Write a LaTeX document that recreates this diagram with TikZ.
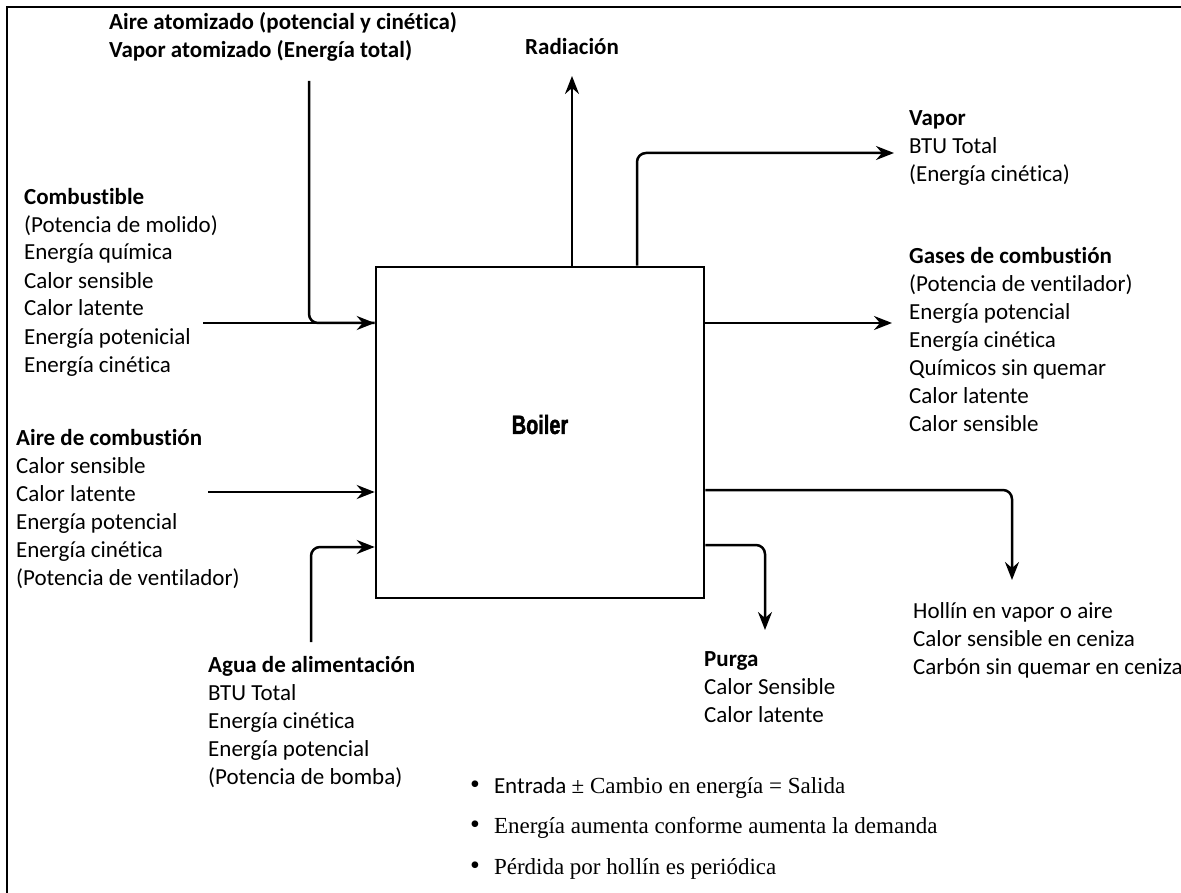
\documentclass[tikz,border=0pt]{standalone}
\usepackage{fontspec}
\setmainfont{Carlito}[Ligatures=NoCommon]
\newfontfamily\timesfont{Liberation Serif}
\newfontfamily\boilerfont[FakeStretch=0.75,FakeBold=1.5]{Liberation Sans Bold}
\usetikzlibrary{arrows.meta}

\begin{document}
\begin{tikzpicture}[x=1pt,y=-1pt,
  % a multi-line node sits on the baseline of its last line
  txt/.style={anchor=base west, align=left, inner sep=0pt,
    font=\fontsize{23}{28}\selectfont},
  bul/.style={anchor=base west, align=left, inner sep=0pt,
    font=\fontsize{23}{40.5}\selectfont},
  wire/.style={line width=2.5pt, line join=round},
  flow/.style={wire, -{Stealth[length=18pt,width=14pt,inset=6pt]}},
  roundbend/.style={rounded corners=9pt}
]
\useasboundingbox (0,0) rectangle (1181,893);

% outer frame (left and top edges)
\draw[line width=2pt] (7,893) -- (7,7) -- (1181,7);

% the boiler
\node[draw, line width=2.6pt, minimum width=328pt, minimum height=331pt,
      inner sep=0pt] (boiler) at (540,432.5) {};
\node[font=\boilerfont\fontsize{26.5}{28}\selectfont, inner sep=0pt]
  (boilertxt) at (540,424.5) {Boiler};

% labels
\node[txt] (atom) at (109,58) {\textbf{Aire atomizado (potencial y cinética)}\\
  \textbf{Vapor atomizado (Energía total)}};
\node[txt] (rad) at (525,55) {\textbf{Radiación}};
\node[txt] (fuel) at (24,372) {\textbf{Combustible}\\(Potencia de molido)\\
  Energía química\\Calor sensible\\Calor latente\\Energía potenicial\\Energía cinética};
\node[txt] (air) at (16,585) {\textbf{Aire de combustión}\\Calor sensible\\
  Calor latente\\Energía potencial\\Energía cinética\\(Potencia de ventilador)};
\node[txt] (feed) at (208,784) {\textbf{Agua de alimentación}\\BTU Total\\
  Energía cinética\\Energía potencial\\(Potencia de bomba)};
\node[txt] (steam) at (909,182) {\textbf{Vapor}\\BTU Total\\(Energía cinética)};
\node[txt] (gas) at (909,431) {\textbf{Gases de combustión}\\(Potencia de ventilador)\\
  Energía potencial\\Energía cinética\\Químicos sin quemar\\Calor latente\\Calor sensible};
\node[txt] (soot) at (913,674) {Hollín en vapor o aire\\Calor sensible en ceniza\\
  Carbón sin quemar en ceniza};
\node[txt] (blow) at (704,722) {\textbf{Purga}\\Calor Sensible\\Calor latente};

% notes
\newcommand{\notedot}{{\timesfont\fontsize{28}{28}\selectfont •}\hspace{14pt}}
\node[bul] (notes) at (470,874) {%
  \notedot{\fontsize{23}{28}\selectfont Entrada} {\timesfont ± Cambio en energía = Salida}\\
  \notedot{\timesfont Energía aumenta conforme aumenta la demanda}\\
  \notedot{\timesfont Pérdida por hollín es periódica}};

% connector end points
\coordinate (atomtop) at (309,81);
\coordinate (fuelstart) at (203,323);
\coordinate (airstart) at (208,492);
\coordinate (feedstart) at (311,642);
\coordinate (feedy) at (0,547);
\coordinate (radtip) at (572,76);
\coordinate (steamx) at (637,0);
\coordinate (steamtip) at (894,153);
\coordinate (gastip) at (892,323);
\coordinate (sooty) at (0,490);
\coordinate (soottip) at (1012,580);
\coordinate (blowy) at (0,545);
\coordinate (blowtip) at (765,630);

% inputs
\draw[flow] (fuelstart) -- (boiler.west |- fuelstart);
\draw[wire, roundbend] (atomtop) |- (boiler.west |- fuelstart);
\draw[flow] (airstart) -- (boiler.west |- airstart);
\draw[flow, roundbend] (feedstart) |- (boiler.west |- feedy);

% outputs
\draw[flow] (boiler.north -| radtip) -- (radtip);
\draw[flow, roundbend] (boiler.north -| steamx) |- (steamtip);
\draw[flow] (boiler.east |- gastip) -- (gastip);
\draw[flow, roundbend] (boiler.east |- sooty) -| (soottip);
\draw[flow, roundbend] (boiler.east |- blowy) -| (blowtip);
\end{tikzpicture}
\end{document}
